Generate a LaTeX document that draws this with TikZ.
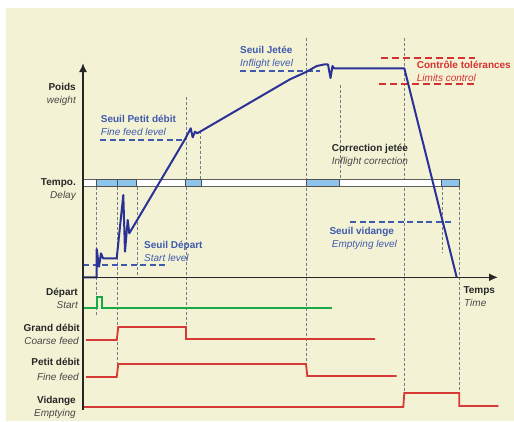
\documentclass[tikz,border=0pt]{standalone}
\usepackage{fontspec}
\setmainfont{Liberation Sans}
\usetikzlibrary{arrows.meta}

\definecolor{cream}{RGB}{244,242,213}
\definecolor{ink}{RGB}{38,38,38}
\definecolor{inkgray}{RGB}{70,70,70}
\definecolor{curveblue}{RGB}{42,50,150}
\definecolor{lvlblue}{RGB}{62,90,172}
\definecolor{tolred}{RGB}{214,48,48}
\definecolor{sigred}{RGB}{214,58,52}
\definecolor{siggreen}{RGB}{24,170,72}
\definecolor{guide}{RGB}{115,122,140}
\definecolor{segblue}{RGB}{140,196,236}

\begin{document}
\begin{tikzpicture}[x=1pt,y=-1pt]
  \tikzset{boldlbl/.style = {inner sep=0pt,font=\fontsize{10}{12}\selectfont\bfseries,text=ink}}
  \tikzset{itlbl/.style = {inner sep=0pt,font=\fontsize{10}{12}\selectfont\itshape,text=inkgray}}
  \tikzset{bluelbl/.style = {boldlbl,text=lvlblue}}
  \tikzset{blueit/.style = {itlbl,text=lvlblue}}
  \tikzset{redlbl/.style = {boldlbl,text=tolred}}
  \tikzset{redit/.style = {itlbl,text=tolred}}
  \tikzset{guideline/.style = {guide,line width=0.7pt,dash pattern=on 3pt off 2pt}}
  \tikzset{level/.style = {lvlblue,line width=2pt,dash pattern=on 6pt off 3.5pt}}
  \tikzset{tolerance/.style = {tolred,line width=2pt,dash pattern=on 7pt off 4pt}}
  \tikzset{weightcurve/.style = {curveblue,line width=2pt,line join=round}}
  \tikzset{signal/.style = {sigred,line width=1.8pt}}
  \tikzset{axis/.style = {ink,line width=1.6pt,-{Latex[length=9pt,width=8pt]}}}
  \tikzset{delaybar/.style = {draw=gray!75!black,fill=white,line width=1.3pt}}
  \tikzset{delayseg/.style = {draw=ink!80,fill=segblue,line width=0.9pt}}

  \useasboundingbox (0,0) rectangle (514,421);
  \fill[cream] (6,8) rectangle (514,421);

  % guide lines
  \draw[guideline] (96.5,187) -- (96.5,315);
  \draw[guideline] (117.3,187) -- (117.3,377);
  \draw[guideline] (137.3,187) -- (137.3,278);
  \draw[guideline] (186.3,97) -- (186.3,339);
  \draw[guideline] (200.3,131) -- (200.3,179);
  \draw[guideline] (306.5,38) -- (306.5,364);
  \draw[guideline] (340.3,85) -- (340.3,179);
  \draw[guideline] (404.3,38) -- (404.3,393);
  \draw[guideline] (442.5,187) -- (442.5,253);
  \draw[guideline] (459.3,187) -- (459.3,406);

  % delay bar
  \draw[delaybar] (83,179.3) rectangle (459.3,186.7);
  \draw[delayseg] (96.5,179.3) rectangle (117.3,186.7);
  \draw[delayseg] (117.3,179.3) rectangle (136.8,186.7);
  \draw[delayseg] (185.5,179.3) rectangle (201,186.7);
  \draw[delayseg] (306,179.3) rectangle (339.5,186.7);
  \draw[delayseg] (441.7,179.3) rectangle (459.3,186.7);

  % levels
  \draw[level] (83,265) -- (166.7,265);
  \draw[level] (100,140) -- (185,140);
  \draw[level] (240,71) -- (320,71);
  \draw[level] (350,222) -- (453,222);
  \draw[tolerance] (381,58) -- (475,58);
  \draw[tolerance] (379.3,84) -- (477.7,84);

  % weight
  \draw[weightcurve] (83,277.3) -- (96.7,277.3) -- (96.7,249) -- (99,266.7)
    -- (101,253.3) -- (103,258.3) -- (116.7,258.3) -- (123.3,195) -- (125,251.7)
    -- (127.7,220) -- (129.3,233.3) -- (185,139.3) -- (190.7,128.3) -- (192.7,137.3)
    -- (195,131.7) -- (197.3,133.3) -- (290,79.3) -- (306.7,71.7) -- (316.7,66)
    -- (325,64.3) -- (328,64.5) -- (330.5,78) -- (332.5,66) -- (334,68.3)
    -- (404.3,68.3) -- (456.7,277.3);

  % signals
  \draw[siggreen,line width=1.8pt] (83.3,308) -- (96.7,308) -- (96.7,297)
    -- (102.3,297) -- (102.3,308) -- (332.3,308);
  \draw[signal] (86,340) -- (116.7,340) -- (118.3,327) -- (186,327)
    -- (186,339) -- (375,339);
  \draw[signal] (86,377) -- (116.7,377) -- (118.3,364) -- (306,364)
    -- (307.3,376) -- (396.7,376);
  \draw[signal] (83,407) -- (403.3,407) -- (404.3,393) -- (459.3,393)
    -- (459.3,406) -- (498.3,406);

  % axes
  \coordinate (ybottom) at (83,410);
  \coordinate (ytip) at (83,63);
  \coordinate (origin) at (83,277.3);
  \coordinate (xtip) at (498,277.3);
  \draw[axis] (ybottom) -- (ytip);
  \draw[axis] (origin) -- (xtip);

  % labels
  \node[boldlbl,anchor=base east] (poids) at (76,90) {Poids};
  \node[itlbl,anchor=base east] (weight) at (76,103.5) {weight};
  \node[boldlbl,anchor=base east] (tempo) at (76,185.5) {Tempo.};
  \node[itlbl,anchor=base east] (delay) at (76,198) {Delay};
  \node[boldlbl,anchor=base east] (depart) at (78,295.5) {Départ};
  \node[itlbl,anchor=base east] (start) at (78,308.5) {Start};
  \node[boldlbl,anchor=base east] (grand) at (80,331) {Grand débit};
  \node[itlbl,anchor=base east] (coarse) at (79,344.5) {Coarse feed};
  \node[boldlbl,anchor=base east] (petit) at (80,365.5) {Petit débit};
  \node[itlbl,anchor=base east] (fine) at (79,380) {Fine feed};
  \node[boldlbl,anchor=base east] (vidange) at (76,403) {Vidange};
  \node[itlbl,anchor=base east] (emptying) at (76,416) {Emptying};

  \node[bluelbl,anchor=base west] (spetit) at (100.7,122) {Seuil Petit débit};
  \node[blueit,anchor=base west] (sfine) at (100.7,135.5) {Fine feed level};
  \node[bluelbl,anchor=base west] (sjetee) at (240,53) {Seuil Jetée};
  \node[blueit,anchor=base west] (sinflight) at (240,66) {Inflight level};
  \node[redlbl,anchor=base west] (ctrl) at (416.7,68) {Contrôle tolérances};
  \node[redit,anchor=base west] (limits) at (416.7,81) {Limits control};
  \node[boldlbl,anchor=base west] (corr) at (331.7,151) {Correction jetée};
  \node[itlbl,anchor=base west] (infcorr) at (331.7,164.5) {Inflight correction};
  \node[bluelbl,anchor=base west] (sdepart) at (144,248) {Seuil Départ};
  \node[blueit,anchor=base west] (sstart) at (144,261) {Start level};
  \node[bluelbl,anchor=base west] (svid) at (329.3,234.5) {Seuil vidange};
  \node[blueit,anchor=base west] (sempty) at (331.7,247) {Emptying level};
  \node[boldlbl,anchor=base west] (temps) at (463.3,293) {Temps};
  \node[itlbl,anchor=base west] (time) at (464,306.5) {Time};
\end{tikzpicture}
\end{document}
